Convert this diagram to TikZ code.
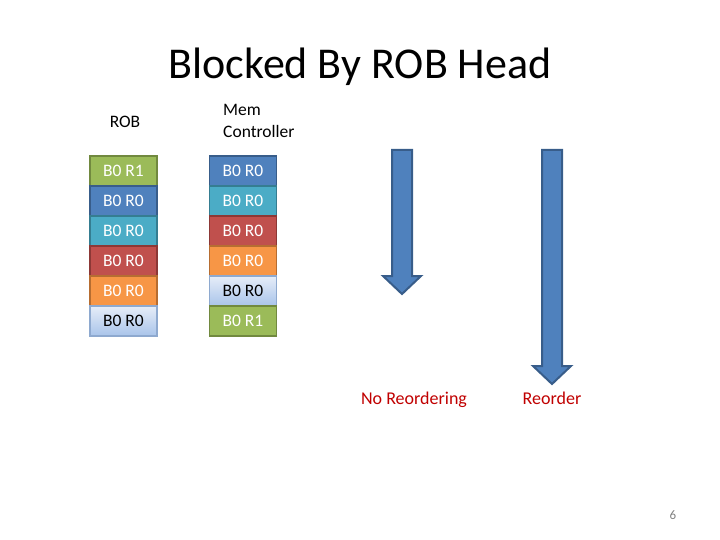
\documentclass[tikz,border=0pt]{standalone}
\usepackage{fontspec}
\setmainfont{Carlito}
\definecolor{cgreen}{HTML}{9BBB59}\definecolor{cgreenb}{HTML}{71893F}
\definecolor{cblue}{HTML}{4F81BD}\definecolor{cblueb}{HTML}{385D8A}
\definecolor{cteal}{HTML}{4BACC6}\definecolor{ctealb}{HTML}{357D91}
\definecolor{cred}{HTML}{C0504D}\definecolor{credb}{HTML}{8C3836}
\definecolor{corange}{HTML}{F79646}\definecolor{coranb}{HTML}{B66D31}
\definecolor{clt}{HTML}{E6EDF8}\definecolor{clb}{HTML}{A9C4EA}\definecolor{clbd}{HTML}{8EA9CF}
\definecolor{labred}{HTML}{C00000}
\tikzset{
  cell/.style={minimum width=67pt,minimum height=30pt,inner sep=0pt,line width=1.5pt,text=white,font=\fontsize{17.5}{20}\selectfont},
  gcell/.style={cell,fill=cgreen,draw=cgreenb},
  bcell/.style={cell,fill=cblue,draw=cblueb},
  tcell/.style={cell,fill=cteal,draw=ctealb},
  rcell/.style={cell,fill=cred,draw=credb},
  ocell/.style={cell,fill=corange,draw=coranb},
  lcell/.style={cell,top color=clt,bottom color=clb,draw=clbd,text=black},
  bigarrow/.style={fill=cblue,draw=cblueb,line width=2pt,line join=miter},
  lab/.style={font=\fontsize{18}{20}\selectfont,text=labred,anchor=base},
  hdr/.style={font=\fontsize{17.5}{22}\selectfont,align=left,inner sep=0pt}
}
\begin{document}
\begin{tikzpicture}[x=1pt,y=-1pt]
\useasboundingbox (0,0) rectangle (720,540);
\node (title) at (360,67) {\fontsize{44}{48}\selectfont Blocked By ROB Head};
\node[hdr] (robh) at (125,122) {ROB};
\node[hdr,anchor=west] (memh) at (223,121) {Mem\\Controller};
% ROB column
\node[gcell] (r1) at (123.5,171) {B0 R1};
\node[bcell] (r2) at (123.5,201) {B0 R0};
\node[tcell] (r3) at (123.5,231) {B0 R0};
\node[rcell] (r4) at (123.5,261) {B0 R0};
\node[ocell] (r5) at (123.5,291) {B0 R0};
\node[lcell] (r6) at (123.5,321) {B0 R0};
% Mem controller column
\node[bcell] (m1) at (243,171) {B0 R0};
\node[tcell] (m2) at (243,201) {B0 R0};
\node[rcell] (m3) at (243,231) {B0 R0};
\node[ocell] (m4) at (243,261) {B0 R0};
\node[lcell] (m5) at (243,291) {B0 R0};
\node[gcell] (m6) at (243,321) {B0 R1};
% arrows
\draw[bigarrow] (392,150) -- (412,150) -- (412,276) -- (421,276) -- (402,294) -- (383,276) -- (392,276) -- cycle;
\draw[bigarrow] (542,150) -- (562,150) -- (562,366) -- (571,366) -- (552,384) -- (533,366) -- (542,366) -- cycle;
\node[lab] (nr) at (414,404) {No Reordering};
\node[lab] (ro) at (552,404) {Reorder};
\node[text=gray,font=\fontsize{13}{15}\selectfont] (pg) at (673,515) {6};
\end{tikzpicture}
\end{document}
